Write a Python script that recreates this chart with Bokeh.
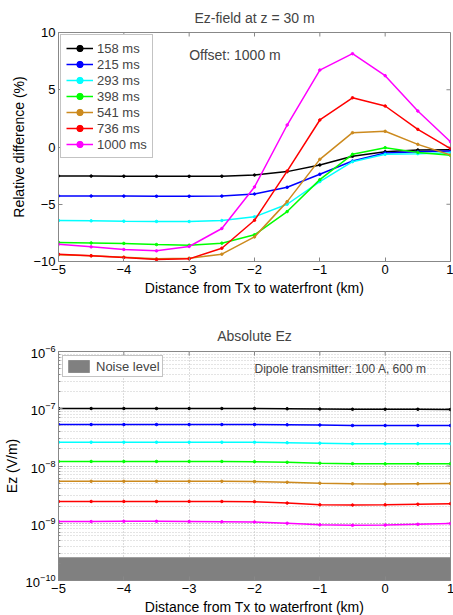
from bokeh.plotting import figure
from bokeh.models import (Legend, LegendItem, Label, Range1d, FixedTicker, LogTicker)
from bokeh.layouts import column
from bokeh.embed import file_html
from bokeh.resources import INLINE

# ---------------- data ----------------
distance_km = [-5, -4.5, -4, -3.5, -3, -2.5, -2, -1.5, -1, -0.5, 0, 0.5, 1]
time_labels = ["158 ms", "215 ms", "293 ms", "398 ms", "541 ms", "736 ms", "1000 ms"]
colors = ["#000000", "#0000FF", "#00FFFF", "#00FF00", "#CC8A1E", "#FF0000", "#FF00FF"]

rel_158 = [-2.53, -2.54, -2.55, -2.56, -2.56, -2.55, -2.45, -2.15, -1.57, -0.81, -0.41, -0.26, -0.23]
rel_215 = [-4.27, -4.28, -4.29, -4.30, -4.30, -4.29, -4.10, -3.52, -2.38, -1.22, -0.52, -0.41, -0.35]
rel_293 = [-6.42, -6.45, -6.48, -6.50, -6.51, -6.42, -6.10, -5.00, -3.02, -1.28, -0.64, -0.58, -0.50]
rel_398 = [-8.34, -8.38, -8.42, -8.52, -8.58, -8.40, -7.67, -5.64, -2.85, -0.64, -0.06, -0.47, -0.73]
rel_541 = [-9.42, -9.50, -9.62, -9.77, -9.71, -9.36, -7.85, -4.77, -1.08, 1.25, 1.37, 0.23, -0.70]
rel_736 = [-9.36, -9.50, -9.65, -9.83, -9.77, -8.84, -6.40, -2.10, 2.36, 4.30, 3.58, 1.54, -0.15]
rel_1000 = [-8.49, -8.72, -8.95, -9.07, -8.69, -7.12, -3.49, 1.92, 6.72, 8.15, 6.23, 3.14, 0.46]
rel_series = [rel_158, rel_215, rel_293, rel_398, rel_541, rel_736, rel_1000]

abs_158 = [1.01e-7, 1.01e-7, 1.01e-7, 1.01e-7, 1.01e-7, 1.01e-7, 1.01e-7, 1.0e-7, 0.99e-7, 0.98e-7, 0.98e-7, 0.98e-7, 0.97e-7]
abs_215 = [5.3e-8, 5.3e-8, 5.3e-8, 5.3e-8, 5.3e-8, 5.3e-8, 5.3e-8, 5.25e-8, 5.2e-8, 5.1e-8, 5.1e-8, 5.1e-8, 5.1e-8]
abs_293 = [2.6e-8, 2.6e-8, 2.6e-8, 2.6e-8, 2.6e-8, 2.6e-8, 2.6e-8, 2.55e-8, 2.5e-8, 2.45e-8, 2.45e-8, 2.45e-8, 2.45e-8]
abs_398 = [1.2e-8, 1.2e-8, 1.2e-8, 1.2e-8, 1.2e-8, 1.2e-8, 1.19e-8, 1.16e-8, 1.12e-8, 1.1e-8, 1.09e-8, 1.1e-8, 1.1e-8]
abs_541 = [5.4e-9, 5.4e-9, 5.4e-9, 5.4e-9, 5.4e-9, 5.4e-9, 5.35e-9, 5.2e-9, 5.0e-9, 4.9e-9, 4.85e-9, 4.9e-9, 4.95e-9]
abs_736 = [2.4e-9, 2.4e-9, 2.4e-9, 2.4e-9, 2.4e-9, 2.4e-9, 2.38e-9, 2.25e-9, 2.1e-9, 2.08e-9, 2.1e-9, 2.15e-9, 2.2e-9]
abs_1000 = [1.07e-9, 1.07e-9, 1.08e-9, 1.08e-9, 1.07e-9, 1.06e-9, 1.05e-9, 1.0e-9, 0.94e-9, 0.92e-9, 0.93e-9, 0.96e-9, 0.99e-9]
abs_series = [abs_158, abs_215, abs_293, abs_398, abs_541, abs_736, abs_1000]

noise_level = 2.55e-10
x_ticks = [-5, -4, -3, -2, -1, 0, 1]
rel_ticks = [-10, -5, 0, 5, 10]
abs_decades = [1e-10, 1e-9, 1e-8, 1e-7, 1e-6]

FONT = "Liberation Sans"
AX_COLOR = "#888888"


def style_axis(ax):
    ax.axis_line_color = AX_COLOR
    ax.major_tick_line_color = AX_COLOR
    ax.minor_tick_line_color = AX_COLOR
    ax.major_tick_in = 4
    ax.major_tick_out = 0
    ax.minor_tick_in = 2
    ax.minor_tick_out = 0
    ax.major_label_text_font = FONT
    ax.major_label_text_font_size = "13px"
    ax.major_label_text_color = "#000000"
    ax.major_label_standoff = 3
    ax.axis_label_text_font = FONT
    ax.axis_label_text_font_size = "14px"
    ax.axis_label_text_font_style = "normal"
    ax.axis_label_text_color = "#000000"
    ax.axis_label_standoff = 3


def style_title(p, standoff):
    p.title.align = "center"
    p.title.text_font = FONT
    p.title.text_font_size = "14px"
    p.title.text_font_style = "normal"
    p.title.standoff = standoff


# ---------------- top figure ----------------
p1 = figure(frame_width=392, frame_height=229, output_backend="svg", toolbar_location=None,
            x_range=Range1d(-5, 1), y_range=Range1d(-10, 10),
            min_border_left=55, min_border_right=6, min_border_top=32, min_border_bottom=39,
            title="Ez-field at z = 30 m")
style_title(p1, 14)
p1.outline_line_color = AX_COLOR
p1.grid.visible = False
p1.xaxis.ticker = FixedTicker(ticks=x_ticks)
p1.yaxis.ticker = FixedTicker(ticks=rel_ticks)
p1.xaxis.axis_label = "Distance from Tx to waterfront (km)"
p1.yaxis.axis_label = "Relative difference (%)"
for ax in p1.xaxis + p1.yaxis:
    style_axis(ax)
    ax.minor_tick_line_color = None

# inward tick marks on the top and right edges (box style)
ymax1 = rel_ticks[-1]
xmax = x_ticks[-1]
p1.segment(x0=x_ticks, x1=x_ticks, y0=[ymax1] * len(x_ticks), y1=[ymax1 - 0.35] * len(x_ticks),
           line_color=AX_COLOR, line_width=1)
p1.segment(x0=[xmax] * len(rel_ticks), x1=[xmax - 0.062] * len(rel_ticks), y0=rel_ticks, y1=rel_ticks,
           line_color=AX_COLOR, line_width=1)

items = []
for lab, col, ys in zip(time_labels, colors, rel_series):
    r1 = p1.line(distance_km, ys, line_color=col, line_width=1.5)
    r2 = p1.scatter(distance_km, ys, size=2.5, color=col)
    items.append(LegendItem(label=lab, renderers=[r1, r2]))
leg1 = Legend(items=items, location="top_left", margin=2, padding=5, spacing=0,
              label_height=16, glyph_height=16, glyph_width=27, label_standoff=4,
              label_text_font=FONT, label_text_font_size="13px",
              border_line_color=AX_COLOR, background_fill_alpha=1.0)
p1.add_layout(leg1, "center")
p1.add_layout(Label(x=-3.0, y=8.0, text="Offset: 1000 m", text_font=FONT,
                    text_font_size="14px", text_baseline="middle"))

# ---------------- bottom figure ----------------
p2 = figure(frame_width=392, frame_height=229, output_backend="svg", toolbar_location=None,
            x_range=Range1d(-5, 1), y_range=Range1d(abs_decades[0], abs_decades[-1]), y_axis_type="log",
            min_border_left=55, min_border_right=6, min_border_top=51, min_border_bottom=35,
            title="Absolute Ez")
style_title(p2, 16)
p2.outline_line_color = AX_COLOR
p2.xaxis.ticker = FixedTicker(ticks=x_ticks)
p2.yaxis.ticker = LogTicker(num_minor_ticks=10)
p2.xaxis.axis_label = "Distance from Tx to waterfront (km)"
p2.yaxis.axis_label = "Ez (V/m)"
for ax in p2.xaxis + p2.yaxis:
    style_axis(ax)
p2.xaxis.minor_tick_line_color = None
p2.xgrid.grid_line_color = "#B8B8B8"
p2.xgrid.grid_line_dash = "1 2"
p2.ygrid.grid_line_color = "#B8B8B8"
p2.ygrid.grid_line_dash = "1 2"
p2.ygrid.minor_grid_line_color = "#C8C8C8"
p2.ygrid.minor_grid_line_dash = "1 2"

ymax2 = abs_decades[-1]
p2.segment(x0=x_ticks, x1=x_ticks, y0=[ymax2] * len(x_ticks), y1=[ymax2 * 0.85] * len(x_ticks),
           line_color=AX_COLOR, line_width=1)
p2.segment(x0=[xmax] * len(abs_decades), x1=[xmax - 0.062] * len(abs_decades), y0=abs_decades,
           y1=abs_decades, line_color=AX_COLOR, line_width=1)

noise = p2.quad(left=[distance_km[0]], right=[distance_km[-1]], bottom=[abs_decades[0]], top=[noise_level],
                fill_color="#808080", line_color=None)
for col, ys in zip(colors, abs_series):
    p2.line(distance_km, ys, line_color=col, line_width=1.5)
    p2.scatter(distance_km, ys, size=2.5, color=col)
leg2 = Legend(items=[LegendItem(label="Noise level", renderers=[noise])], location="top_left",
              margin=4, padding=2, glyph_height=16, glyph_width=27, label_standoff=4,
              label_text_font=FONT, label_text_font_size="13px",
              border_line_color=AX_COLOR, background_fill_alpha=1.0)
p2.add_layout(leg2, "center")
p2.add_layout(Label(x=-2.0, y=5.0e-7, text="Dipole transmitter: 100 A, 600 m", text_font=FONT,
                    text_font_size="12px", text_baseline="middle"))

layout = column(p1, p2, spacing=0)
open("out.html", "w").write(file_html(layout, INLINE))
